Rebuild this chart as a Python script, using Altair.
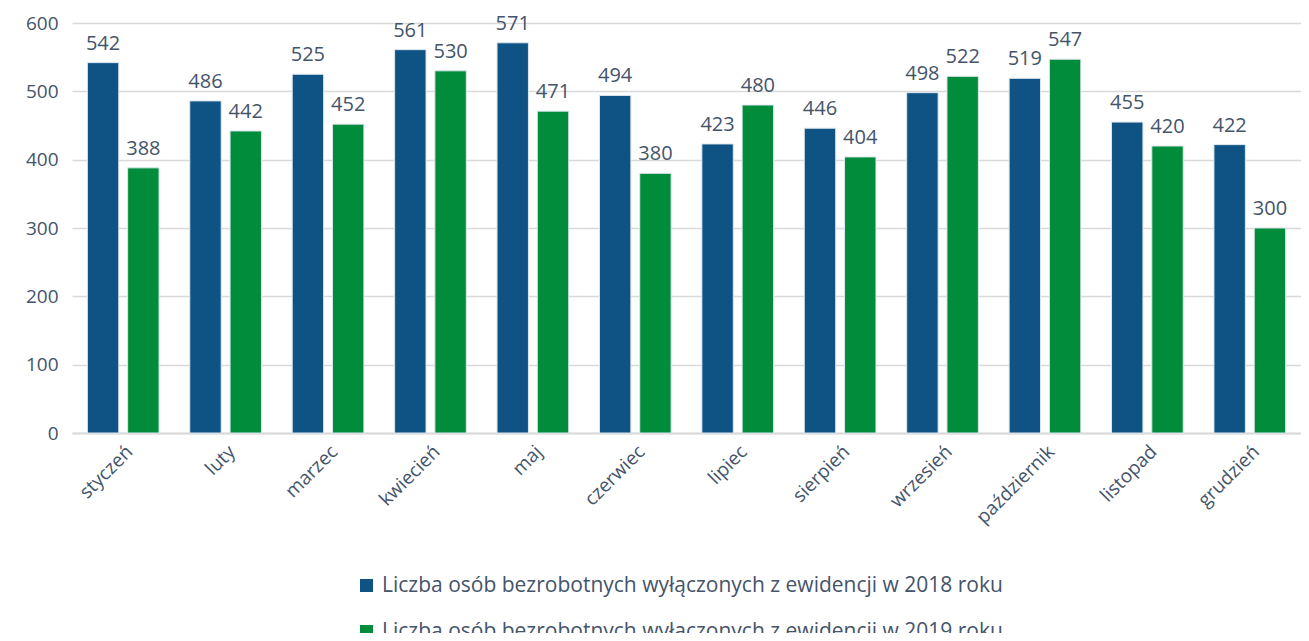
import altair as alt
import pandas as pd

months = ["styczeń", "luty", "marzec", "kwiecień", "maj", "czerwiec", "lipiec",
          "sierpień", "wrzesień", "październik", "listopad", "grudzień"]
v2018 = [542, 486, 525, 561, 571, 494, 423, 446, 498, 519, 455, 422]
v2019 = [388, 442, 452, 530, 471, 380, 480, 404, 522, 547, 420, 300]
series = ["Liczba osób bezrobotnych wyłączonych z ewidencji w 2018 roku",
          "Liczba osób bezrobotnych wyłączonych z ewidencji w 2019 roku"]
colors = ["#0E5384", "#008C3A"]

rows = []
for m, a, b in zip(months, v2018, v2019):
    rows.append({"month": m, "series": series[0], "value": a})
    rows.append({"month": m, "series": series[1], "value": b})
df = pd.DataFrame(rows)

FONT = "Open Sans"
TXT = "#44546A"

x = alt.X("month:N", sort=months, title=None,
          scale=alt.Scale(paddingInner=0.3, paddingOuter=0.15),
          axis=alt.Axis(labelAngle=-45, labelFontSize=19, labelColor=TXT, labelFont=FONT,
                        ticks=False, domainColor="#D9D9D9", domainWidth=2, labelPadding=9))
xo = alt.XOffset("series:N", sort=series, scale=alt.Scale(paddingInner=0.22))
y = alt.Y("value:Q", title=None,
          scale=alt.Scale(domain=[0, 600], nice=False),
          axis=alt.Axis(values=[0, 100, 200, 300, 400, 500, 600], labelFontSize=19,
                        labelColor=TXT, labelFont=FONT, ticks=False, domain=False,
                        gridColor="#D9D9D9", gridWidth=1.5, labelPadding=14))

bars = alt.Chart(df).mark_bar(stroke="#DCE6F0", strokeWidth=1).encode(
    x=x, xOffset=xo, y=y,
    color=alt.Color("series:N", sort=series,
                    scale=alt.Scale(domain=series, range=colors),
                    legend=alt.Legend(title=None, orient="none", legendX=284, legendY=552,
                                      direction="vertical", symbolType="square",
                                      symbolSize=169, symbolStrokeWidth=0,
                                      labelFontSize=21, labelColor=TXT, labelFont=FONT,
                                      labelLimit=0, rowPadding=24, labelOffset=5)),
)
labels = alt.Chart(df).mark_text(baseline="bottom", dy=-9, fontSize=20, font=FONT, color=TXT).encode(
    x=x, xOffset=xo, y=y, text=alt.Text("value:Q"))

chart = (bars + labels).properties(
    width=1229, height=410,
    autosize=alt.AutoSizeParams(type="none"),
    padding={"left": 64, "top": 15, "right": 0, "bottom": 200},
).configure_view(stroke=None).configure_axis(grid=True).configure_axisX(grid=False)

chart.save("out.html", embed_options={"renderer": "svg", "actions": False})
